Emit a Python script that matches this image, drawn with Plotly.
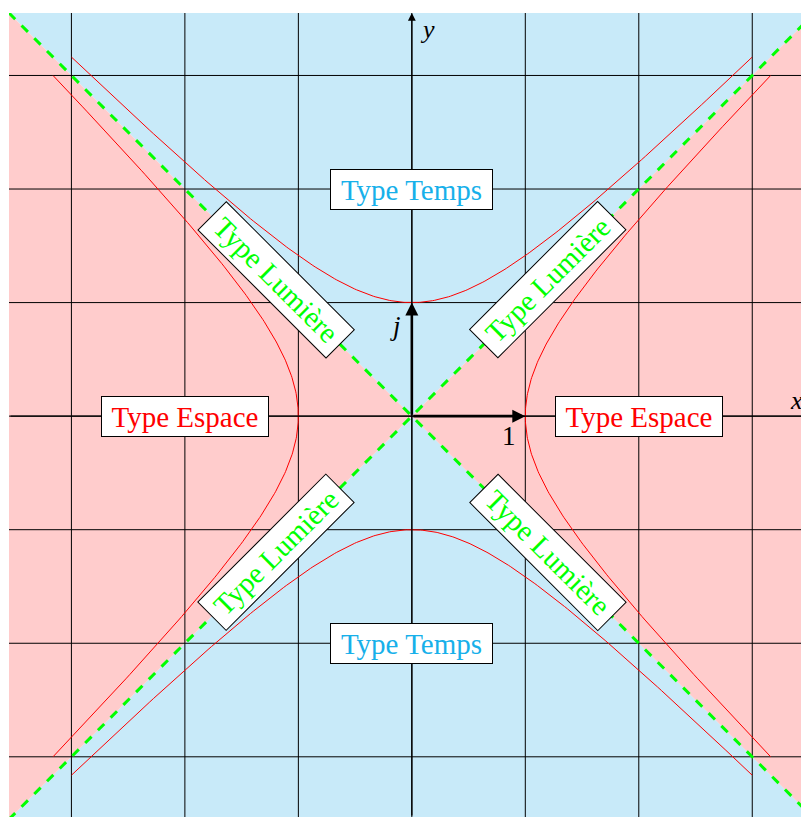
import numpy as np
import plotly.graph_objects as go

# ---- data ----
grid_ticks = [-3, -2, -1, 0, 1, 2, 3]
x_range = [-3.55, 3.50]
y_range = [-3.53, 3.55]
t_param = np.linspace(-1.818, 1.818, 241)   # asinh(3) ~ 1.818 -> branches span |param| <= 3
light_cone = [-4, 4]
region_extent = 4

labels_time = [("Type Temps", 0, 2), ("Type Temps", 0, -2)]
labels_space = [("Type Espace", -2, 0), ("Type Espace", 2, 0)]
labels_light = [("Type Lumière", -1.2, 1.2, 45), ("Type Lumière", 1.2, 1.2, -45),
                ("Type Lumière", -1.2, -1.2, -45), ("Type Lumière", 1.2, -1.2, 45)]

BLUE_BG = "#c8eaf9"
RED_BG = "#ffcccc"
CYAN_TXT = "#17b0ea"
RED = "#ff0000"
GREEN = "#00ff00"
FONT = "Liberation Serif"

fig = go.Figure()

R = region_extent
# time-like regions (top / bottom triangles)
for s in (1, -1):
    fig.add_trace(go.Scatter(x=[0, -R, R, 0], y=[0, s * R, s * R, 0], fill="toself",
                             fillcolor=BLUE_BG, line=dict(width=0), mode="lines",
                             hoverinfo="skip", showlegend=False))
# space-like regions
for s in (1, -1):
    fig.add_trace(go.Scatter(x=[0, s * R, s * R, 0], y=[0, R, -R, 0], fill="toself",
                             fillcolor=RED_BG, line=dict(width=0), mode="lines",
                             hoverinfo="skip", showlegend=False))

# grid
for g in grid_ticks:
    fig.add_trace(go.Scatter(x=[g, g], y=[-R, R], mode="lines",
                             line=dict(color="black", width=1), hoverinfo="skip", showlegend=False))
    fig.add_trace(go.Scatter(x=[-R, R], y=[g, g], mode="lines",
                             line=dict(color="black", width=1), hoverinfo="skip", showlegend=False))

# hyperbolas
ch = np.cosh(t_param)
sh = np.sinh(t_param)
for xs, ys in [(sh, ch), (sh, -ch), (ch, sh), (-ch, sh)]:
    fig.add_trace(go.Scatter(x=xs, y=ys, mode="lines", line=dict(color=RED, width=1),
                             hoverinfo="skip", showlegend=False))

# light cone
fig.add_trace(go.Scatter(x=light_cone, y=light_cone, mode="lines",
                         line=dict(color=GREEN, width=3, dash="dash"), hoverinfo="skip", showlegend=False))
fig.add_trace(go.Scatter(x=light_cone, y=[-v for v in light_cone], mode="lines",
                         line=dict(color=GREEN, width=3, dash="dash"), hoverinfo="skip", showlegend=False))

annotations = []
# axes arrows
annotations.append(dict(x=x_range[1], y=0, ax=x_range[0], ay=0, xref="x", yref="y", axref="x", ayref="y",
                        text="", showarrow=True, arrowhead=2, arrowsize=1.2, arrowwidth=1.3, arrowcolor="black",
                        standoff=0))
annotations.append(dict(x=0, y=y_range[1], ax=0, ay=y_range[0], xref="x", yref="y", axref="x", ayref="y",
                        text="", showarrow=True, arrowhead=2, arrowsize=1.2, arrowwidth=1.3, arrowcolor="black",
                        standoff=0))
# basis vectors
annotations.append(dict(x=1, y=0, ax=0, ay=0, xref="x", yref="y", axref="x", ayref="y",
                        text="", showarrow=True, arrowhead=2, arrowsize=1, arrowwidth=2.6, arrowcolor="black",
                        standoff=0))
annotations.append(dict(x=0, y=1, ax=0, ay=0, xref="x", yref="y", axref="x", ayref="y",
                        text="", showarrow=True, arrowhead=2, arrowsize=1, arrowwidth=2.6, arrowcolor="black",
                        standoff=0))

# axis labels
annotations.append(dict(x=1, y=0, xref="x", yref="y", text="1", showarrow=False, xshift=-16, yshift=-20,
                        font=dict(family=FONT, size=27, color="black")))
annotations.append(dict(x=0, y=1, xref="x", yref="y", text="<i>j</i>", showarrow=False, xshift=-16, yshift=-23,
                        font=dict(family=FONT, size=27, color="black")))
annotations.append(dict(x=x_range[1], y=0, xref="x", yref="y", text="<i>x</i>", showarrow=False,
                        xshift=-13, yshift=16, font=dict(family=FONT, size=26, color="black")))
annotations.append(dict(x=0, y=y_range[1], xref="x", yref="y", text="<i>y</i>", showarrow=False,
                        xshift=16, yshift=-16, font=dict(family=FONT, size=26, color="black")))

for txt, x, y in labels_time:
    annotations.append(dict(x=x, y=y, xref="x", yref="y", text=txt, showarrow=False,
                            font=dict(family=FONT, size=29, color=CYAN_TXT),
                            bgcolor="white", bordercolor="black", borderwidth=1, borderpad=3,
                            width=155, height=33))
for txt, x, y in labels_space:
    annotations.append(dict(x=x, y=y, xref="x", yref="y", text=txt, showarrow=False,
                            font=dict(family=FONT, size=29, color=RED),
                            bgcolor="white", bordercolor="black", borderwidth=1, borderpad=3,
                            width=160, height=33))
for txt, x, y, ang in labels_light:
    annotations.append(dict(x=x, y=y, xref="x", yref="y", text=txt, showarrow=False, textangle=ang,
                            font=dict(family=FONT, size=29, color=GREEN),
                            bgcolor="white", bordercolor="black", borderwidth=1, borderpad=3,
                            width=174, height=33))

fig.update_layout(
    width=809, height=817,
    margin=dict(l=1, r=8, t=5, b=8),
    paper_bgcolor="white", plot_bgcolor="white",
    xaxis=dict(range=x_range, showgrid=False, zeroline=False, showticklabels=False, ticks="",
               fixedrange=True),
    yaxis=dict(range=y_range, showgrid=False, zeroline=False, showticklabels=False, ticks="",
               fixedrange=True),
    annotations=annotations,
    showlegend=False,
)

fig.write_html("out.html")
